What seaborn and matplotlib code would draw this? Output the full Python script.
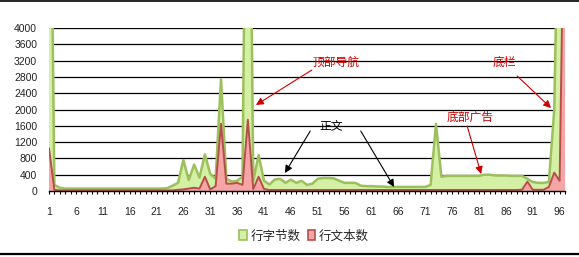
import matplotlib
matplotlib.use("Agg")
import matplotlib.pyplot as plt
from matplotlib.patches import Patch
from matplotlib.lines import Line2D
import numpy as np
import pandas as pd
import seaborn as sns

# ---------------- data ----------------
categories = list(range(1, 98))
tick_labels = [str(i) for i in range(1, 98, 5)]
series_names = ["行字节数", "行文本数"]

line_bytes = [
    12000, 150, 80, 60, 60, 60, 60, 60, 60, 60,      # 1-10
    60, 60, 60, 60, 60, 60, 60, 60, 60, 60,          # 11-20
    60, 60, 70, 130, 200, 760, 270, 650, 330, 900,   # 21-30
    420, 300, 2750, 300, 230, 250, 350, 14000, 250, 880,  # 31-40
    250, 160, 280, 300, 200, 280, 200, 250, 150, 180,     # 41-50
    300, 320, 320, 310, 250, 200, 200, 200, 130, 120,     # 51-60
    120, 110, 110, 100, 100, 100, 100, 100, 100, 100,     # 61-70
    100, 150, 1650, 350, 370, 370, 370, 370, 370, 370,    # 71-80
    370, 400, 400, 380, 380, 380, 370, 370, 370, 300,     # 81-90
    220, 200, 200, 220, 2000, 9000, 3000,                 # 91-97
]
line_text = [
    1050, 30, 15, 15, 15, 15, 15, 15, 15, 15,        # 1-10
    15, 15, 15, 15, 15, 15, 15, 15, 15, 15,          # 11-20
    15, 15, 15, 15, 30, 40, 60, 80, 60, 350,         # 21-30
    40, 120, 1650, 180, 180, 200, 150, 1750, 50, 350,     # 31-40
    50, 25, 25, 25, 25, 25, 25, 25, 25, 25,               # 41-50
    25, 25, 25, 25, 25, 25, 25, 25, 25, 25,               # 51-60
    25, 25, 25, 25, 25, 25, 25, 25, 25, 25,               # 61-70
    25, 25, 25, 25, 25, 25, 25, 25, 25, 25,               # 71-80
    25, 25, 25, 25, 25, 25, 25, 25, 30, 230,              # 81-90
    30, 30, 30, 100, 450, 250, 9000,                      # 91-97
]

annotations = [
    # text, text pos, color, arrows [(start, tip), ...]
    ("顶部导航", (54.4, 3166), "#CC0000", [((49.9, 2969), (39.5, 2110))]),
    ("正文", (53.5, 1595), "black", [((49.6, 1472), (44.9, 442)),
                                   ((59.0, 1472), (65.2, 98))]),
    ("底部广告", (79.3, 1816), "#CC0000", [((78.8, 1595), (81.4, 417))]),
    ("底栏", (85.8, 3166), "#CC0000", [((88.1, 2822), (94.4, 2037))]),
]

# ---------------- style ----------------
sns.set_theme(style="white")
plt.rcParams['font.family'] = ['Liberation Sans', 'Noto Sans CJK SC', 'DejaVu Sans']
cjk = ['Noto Sans CJK SC', 'DejaVu Sans']

green_fill = "#D4F0A4"
green_edge = "#9DBF5C"
red_fill = "#F5A5A5"
red_edge = "#B4504C"

W, H = 579, 257
fig = plt.figure(figsize=(W / 100, H / 100), dpi=100)
ax = fig.add_axes([49 / W, 1 - 191 / H, (565 - 49) / W, (191 - 28) / H])

df = pd.DataFrame({"idx": categories, series_names[0]: line_bytes,
                   series_names[1]: line_text})

ax.fill_between(df["idx"], df[series_names[0]], color=green_fill, lw=0, zorder=2)
sns.lineplot(data=df, x="idx", y=series_names[0], color=green_edge, lw=1.8,
             ax=ax, zorder=3)
ax.fill_between(df["idx"], df[series_names[1]], color=red_fill, lw=0, zorder=4)
sns.lineplot(data=df, x="idx", y=series_names[1], color=red_edge, lw=1.4,
             ax=ax, zorder=5)

ax.set_xlim(1, 97)
ax.set_ylim(0, 4000)
ax.set_yticks(np.arange(0, 4001, 400))
ax.set_yticklabels([str(v) for v in range(0, 4001, 400)])
ax.set_xticks(range(1, 98, 5))
ax.set_xticklabels(tick_labels)
ax.set_xticks(range(1, 98), minor=True)
ax.set_xlabel("")
ax.set_ylabel("")

for v in range(400, 4001, 400):
    ax.axhline(v, color="black", lw=0.9, zorder=1)

for s in ["left", "right", "top"]:
    ax.spines[s].set_visible(False)
ax.spines["bottom"].set_color("black")
ax.spines["bottom"].set_linewidth(1.0)
ax.spines["bottom"].set_zorder(6)

ax.tick_params(axis="y", length=0, pad=8.5, labelsize=7.5, labelcolor="#222222")
ax.tick_params(axis="x", which="both", direction="out", length=2.5, width=0.8,
               color="black", bottom=True)
ax.tick_params(axis="x", which="major", pad=9, labelsize=7.5, labelcolor="#222222")

# annotations
for text, tpos, col, arrows in annotations:
    ax.text(tpos[0], tpos[1], text, color=col, fontsize=8.5, family=cjk,
            ha="center", va="center", zorder=10)
    for start, tip in arrows:
        ax.annotate("", xy=tip, xytext=start,
                    arrowprops=dict(arrowstyle="-|>", color=col, lw=0.8,
                                    mutation_scale=11, shrinkA=0, shrinkB=0),
                    zorder=10)

# legend
handles = [Patch(facecolor=green_fill, edgecolor=green_edge, lw=1.2),
           Patch(facecolor=red_fill, edgecolor=red_edge, lw=1.2)]
fig.legend(handles, series_names, loc="center", bbox_to_anchor=(304 / W, 1 - 236 / H),
           ncol=2, frameon=False, handlelength=0.6, handleheight=0.9,
           handletextpad=0.3, columnspacing=0.6, prop={"family": cjk, "size": 9})

# chart-area border lines (top & bottom)
fig.add_artist(Line2D([0, 1], [1 - 0.5 / H, 1 - 0.5 / H], color="black", lw=1.2,
                      transform=fig.transFigure))
fig.add_artist(Line2D([0, 1], [1 - 254 / H, 1 - 254 / H], color="black", lw=1.6,
                      transform=fig.transFigure))

fig.savefig("out.png", dpi=100)
